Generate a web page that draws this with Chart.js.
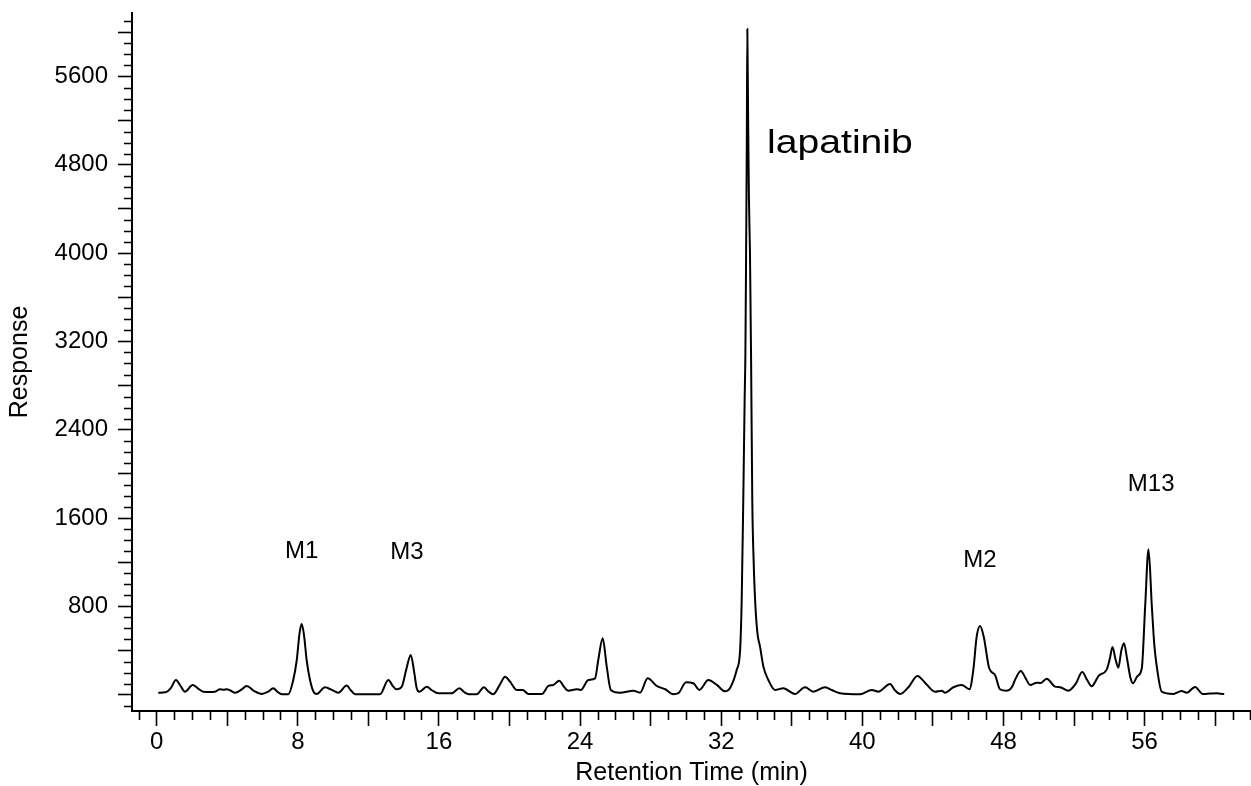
<!DOCTYPE html>
<html>
<head>
<meta charset="utf-8">
<script src="https://cdn.jsdelivr.net/npm/chart.js@4/dist/chart.umd.min.js"></script>
<style>
  html, body { margin: 0; padding: 0; background: #fff; }
  #wrap { width: 1251px; height: 786px; }
</style>
</head>
<body>
<div id="wrap"><canvas id="c" width="1251" height="786"></canvas></div>
<script>
// Retention time (min)
const times = [
  0.09, 0.5, 0.8, 1.09, 1.35, 1.6, 2.04, 2.35, 2.64, 3.0, 3.3, 3.59, 3.8, 3.97, 4.2, 4.44, 4.8, 5.10, 5.5, 5.95,
  6.3, 6.61, 6.85, 7.09, 7.46, 7.74, 7.94, 8.1, 8.22, 8.35, 8.50, 8.69, 8.92, 9.07, 9.54, 9.9, 10.30, 10.77, 11.0, 11.24,
  12.0, 12.66, 13.13, 13.4, 13.6, 13.89, 14.15, 14.40, 14.6, 14.74, 14.89, 15.31, 15.6, 15.96, 16.72, 17.16, 17.45, 17.7, 18.14, 18.55,
  18.8, 19.08, 19.45, 19.75, 20.03, 20.41, 20.75, 21.07, 21.83, 22.2, 22.48, 22.82, 23.05, 23.33, 23.81, 24.04, 24.47, 24.85, 25.03, 25.28,
  25.51, 25.74, 26.26, 27.02, 27.40, 27.83, 28.34, 28.82, 29.29, 29.57, 30.01, 30.42, 30.76, 31.27, 31.75, 32.22, 32.5, 32.88, 33.07, 33.16,
  33.25, 33.33, 33.37, 33.41, 33.45, 33.48, 33.52, 33.57, 33.63, 33.69, 33.76, 33.84, 33.92, 34.05, 34.20, 34.39, 34.67, 35.05, 35.52, 36.18,
  36.75, 37.22, 37.89, 38.3, 38.74, 39.87, 40.53, 40.91, 41.57, 41.85, 42.14, 42.61, 43.12, 43.55, 44.12, 44.50, 44.69, 45.16, 45.63, 46.07,
  46.29, 46.48, 46.67, 46.88, 47.19, 47.52, 47.80, 48.19, 48.47, 48.7, 48.98, 49.25, 49.51, 49.89, 50.1, 50.45, 50.92, 51.21, 51.68, 52.1,
  52.46, 52.75, 53.0, 53.4, 53.85, 54.02, 54.18, 54.35, 54.51, 54.68, 54.83, 55.0, 55.2, 55.34, 55.6, 55.84, 56.03, 56.22, 56.41, 56.55,
  56.69, 56.97, 57.63, 58.10, 58.39, 58.86, 59.30, 59.7, 60.09, 60.3, 60.51
];
// Response
const responses = [
  18, 22, 60, 133, 80, 27, 88, 55, 27, 25, 27, 49, 45, 49, 35, 18, 45, 79, 35, 6,
  25, 58, 25, 4, 4, 133, 314, 560, 640, 540, 314, 133, 18, 6, 67, 45, 18, 82, 40, 4,
  4, 4, 133, 75, 49, 72, 230, 360, 200, 58, 27, 72, 40, 13, 13, 58, 20, 4, 4, 67,
  30, 4, 90, 163, 118, 43, 43, 6, 6, 79, 88, 127, 80, 36, 49, 43, 133, 148, 314, 511,
  254, 43, 18, 36, 18, 148, 79, 49, 4, 13, 112, 103, 43, 133, 88, 30, 60, 225, 405, 858,
  1763, 2700, 3090, 4000, 5000, 6030, 5300, 4500, 4000, 3090, 1763, 1200, 858, 560, 435, 254, 133, 43, 58, 6,
  67, 27, 67, 40, 13, 4, 43, 27, 97, 40, 6, 67, 169, 109, 27, 36, 18, 67, 88, 49,
  224, 525, 622, 525, 239, 178, 49, 36, 67, 150, 215, 150, 88, 109, 105, 145, 73, 67, 36, 100,
  205, 130, 76, 173, 227, 320, 432, 320, 244, 400, 466, 330, 150, 103, 170, 239, 797, 1317, 797, 450,
  254, 27, 6, 34, 18, 70, 6, 10, 13, 8, 6
];

// Peak labels
const peakLabels = ['M1', 'M3', 'lapatinib', 'M2', 'M13'];
const peakLabelTimes = [8.22, 14.19, 34.6, 46.67, 56.37];
const peakLabelResponses = [1302, 1293, 4990, 1220, 1908];

// Axis ticks
const xTickValues = [0, 4, 8, 12, 16, 20, 24, 28, 32, 36, 40, 44, 48, 52, 56, 60];
const xTickLabels = ['0', '', '8', '', '16', '', '24', '', '32', '', '40', '', '48', '', '56', ''];
const yTickValues = [0, 400, 800, 1200, 1600, 2000, 2400, 2800, 3200, 3600, 4000, 4400, 4800, 5200, 5600, 6000];
const yTickLabels = ['', '', '800', '', '1600', '', '2400', '', '3200', '', '4000', '', '4800', '', '5600', ''];

const FONT = "'Liberation Sans', Arial, sans-serif";

const points = times.map((t, i) => ({ x: t, y: responses[i] }));

const minorTicks = {
  id: 'minorTicks',
  afterDraw(chart) {
    const ctx = chart.ctx;
    const xs = chart.scales.x, ys = chart.scales.y;
    ctx.save();
    ctx.strokeStyle = '#000';
    ctx.lineWidth = 1.6;
    ctx.beginPath();
    for (let t = Math.ceil(xs.min); t <= Math.floor(xs.max); t++) {
      if (t % 4 === 0) continue;
      const px = Math.round(xs.getPixelForValue(t)) + 0.5;
      ctx.moveTo(px, xs.top);
      ctx.lineTo(px, xs.top + 9);
    }
    for (let v = Math.ceil(ys.min / 100) * 100; v <= ys.max; v += 100) {
      if (v % 400 === 0) continue;
      const py = Math.round(ys.getPixelForValue(v)) + 0.5;
      ctx.moveTo(ys.right - 8, py);
      ctx.lineTo(ys.right, py);
    }
    ctx.stroke();
    ctx.restore();
  }
};

const peakText = {
  id: 'peakText',
  afterDatasetsDraw(chart) {
    const ctx = chart.ctx;
    const xs = chart.scales.x, ys = chart.scales.y;
    peakLabels.forEach((lab, i) => {
      const px = xs.getPixelForValue(peakLabelTimes[i]);
      const py = ys.getPixelForValue(peakLabelResponses[i]);
      ctx.save();
      ctx.fillStyle = '#000';
      ctx.textBaseline = 'middle';
      if (lab === 'lapatinib') {
        ctx.font = '34px ' + FONT;
        ctx.textAlign = 'left';
        ctx.translate(px, py);
        ctx.scale(1.15, 1);
        ctx.fillText(lab, 0, 0);
      } else {
        ctx.font = '24px ' + FONT;
        ctx.textAlign = 'center';
        ctx.fillText(lab, px, py);
      }
      ctx.restore();
    });
  }
};

new Chart(document.getElementById('c'), {
  type: 'line',
  data: {
    datasets: [{
      data: points,
      borderColor: '#000',
      borderWidth: 2,
      pointRadius: 0,
      fill: false,
      cubicInterpolationMode: 'monotone'
    }]
  },
  options: {
    responsive: false,
    animation: false,
    devicePixelRatio: 1,
    layout: { padding: { top: 13, right: 0, left: 0, bottom: 0 } },
    plugins: { legend: { display: false }, tooltip: { enabled: false } },
    scales: {
      x: {
        type: 'linear',
        min: -1.4,
        max: 62.03,
        afterBuildTicks(scale) { scale.ticks = xTickValues.map(v => ({ value: v })); },
        afterFit(scale) { scale.height = 75; scale.paddingLeft = 0; scale.paddingRight = 0; },
        border: { display: true, color: '#000', width: 2 },
        grid: { drawOnChartArea: false, drawTicks: true, tickLength: 15, tickWidth: 1.6, tickColor: '#000' },
        ticks: {
          autoSkip: false,
          maxRotation: 0,
          padding: 2,
          color: '#000',
          font: { family: FONT, size: 24 },
          callback: (v, i) => xTickLabels[i]
        },
        title: {
          display: true,
          text: 'Retention Time (min)',
          color: '#000',
          font: { family: FONT, size: 25, lineHeight: 1 },
          padding: { top: 0, bottom: 0 }
        }
      },
      y: {
        type: 'linear',
        min: -148,
        max: 6175,
        afterBuildTicks(scale) { scale.ticks = yTickValues.map(v => ({ value: v })); },
        afterFit(scale) { scale.width = 132; scale.paddingTop = 0; scale.paddingBottom = 0; },
        border: { display: true, color: '#000', width: 2 },
        grid: { drawOnChartArea: false, drawTicks: true, tickLength: 14, tickWidth: 1.6, tickColor: '#000' },
        ticks: {
          autoSkip: false,
          padding: 10,
          color: '#000',
          font: { family: FONT, size: 24 },
          callback: (v, i) => yTickLabels[i]
        },
        title: {
          display: true,
          text: 'Response',
          color: '#000',
          font: { family: FONT, size: 25, lineHeight: 1 },
          padding: { top: 8, bottom: 0 }
        }
      }
    }
  },
  plugins: [minorTicks, peakText]
});
</script>
</body>
</html>
